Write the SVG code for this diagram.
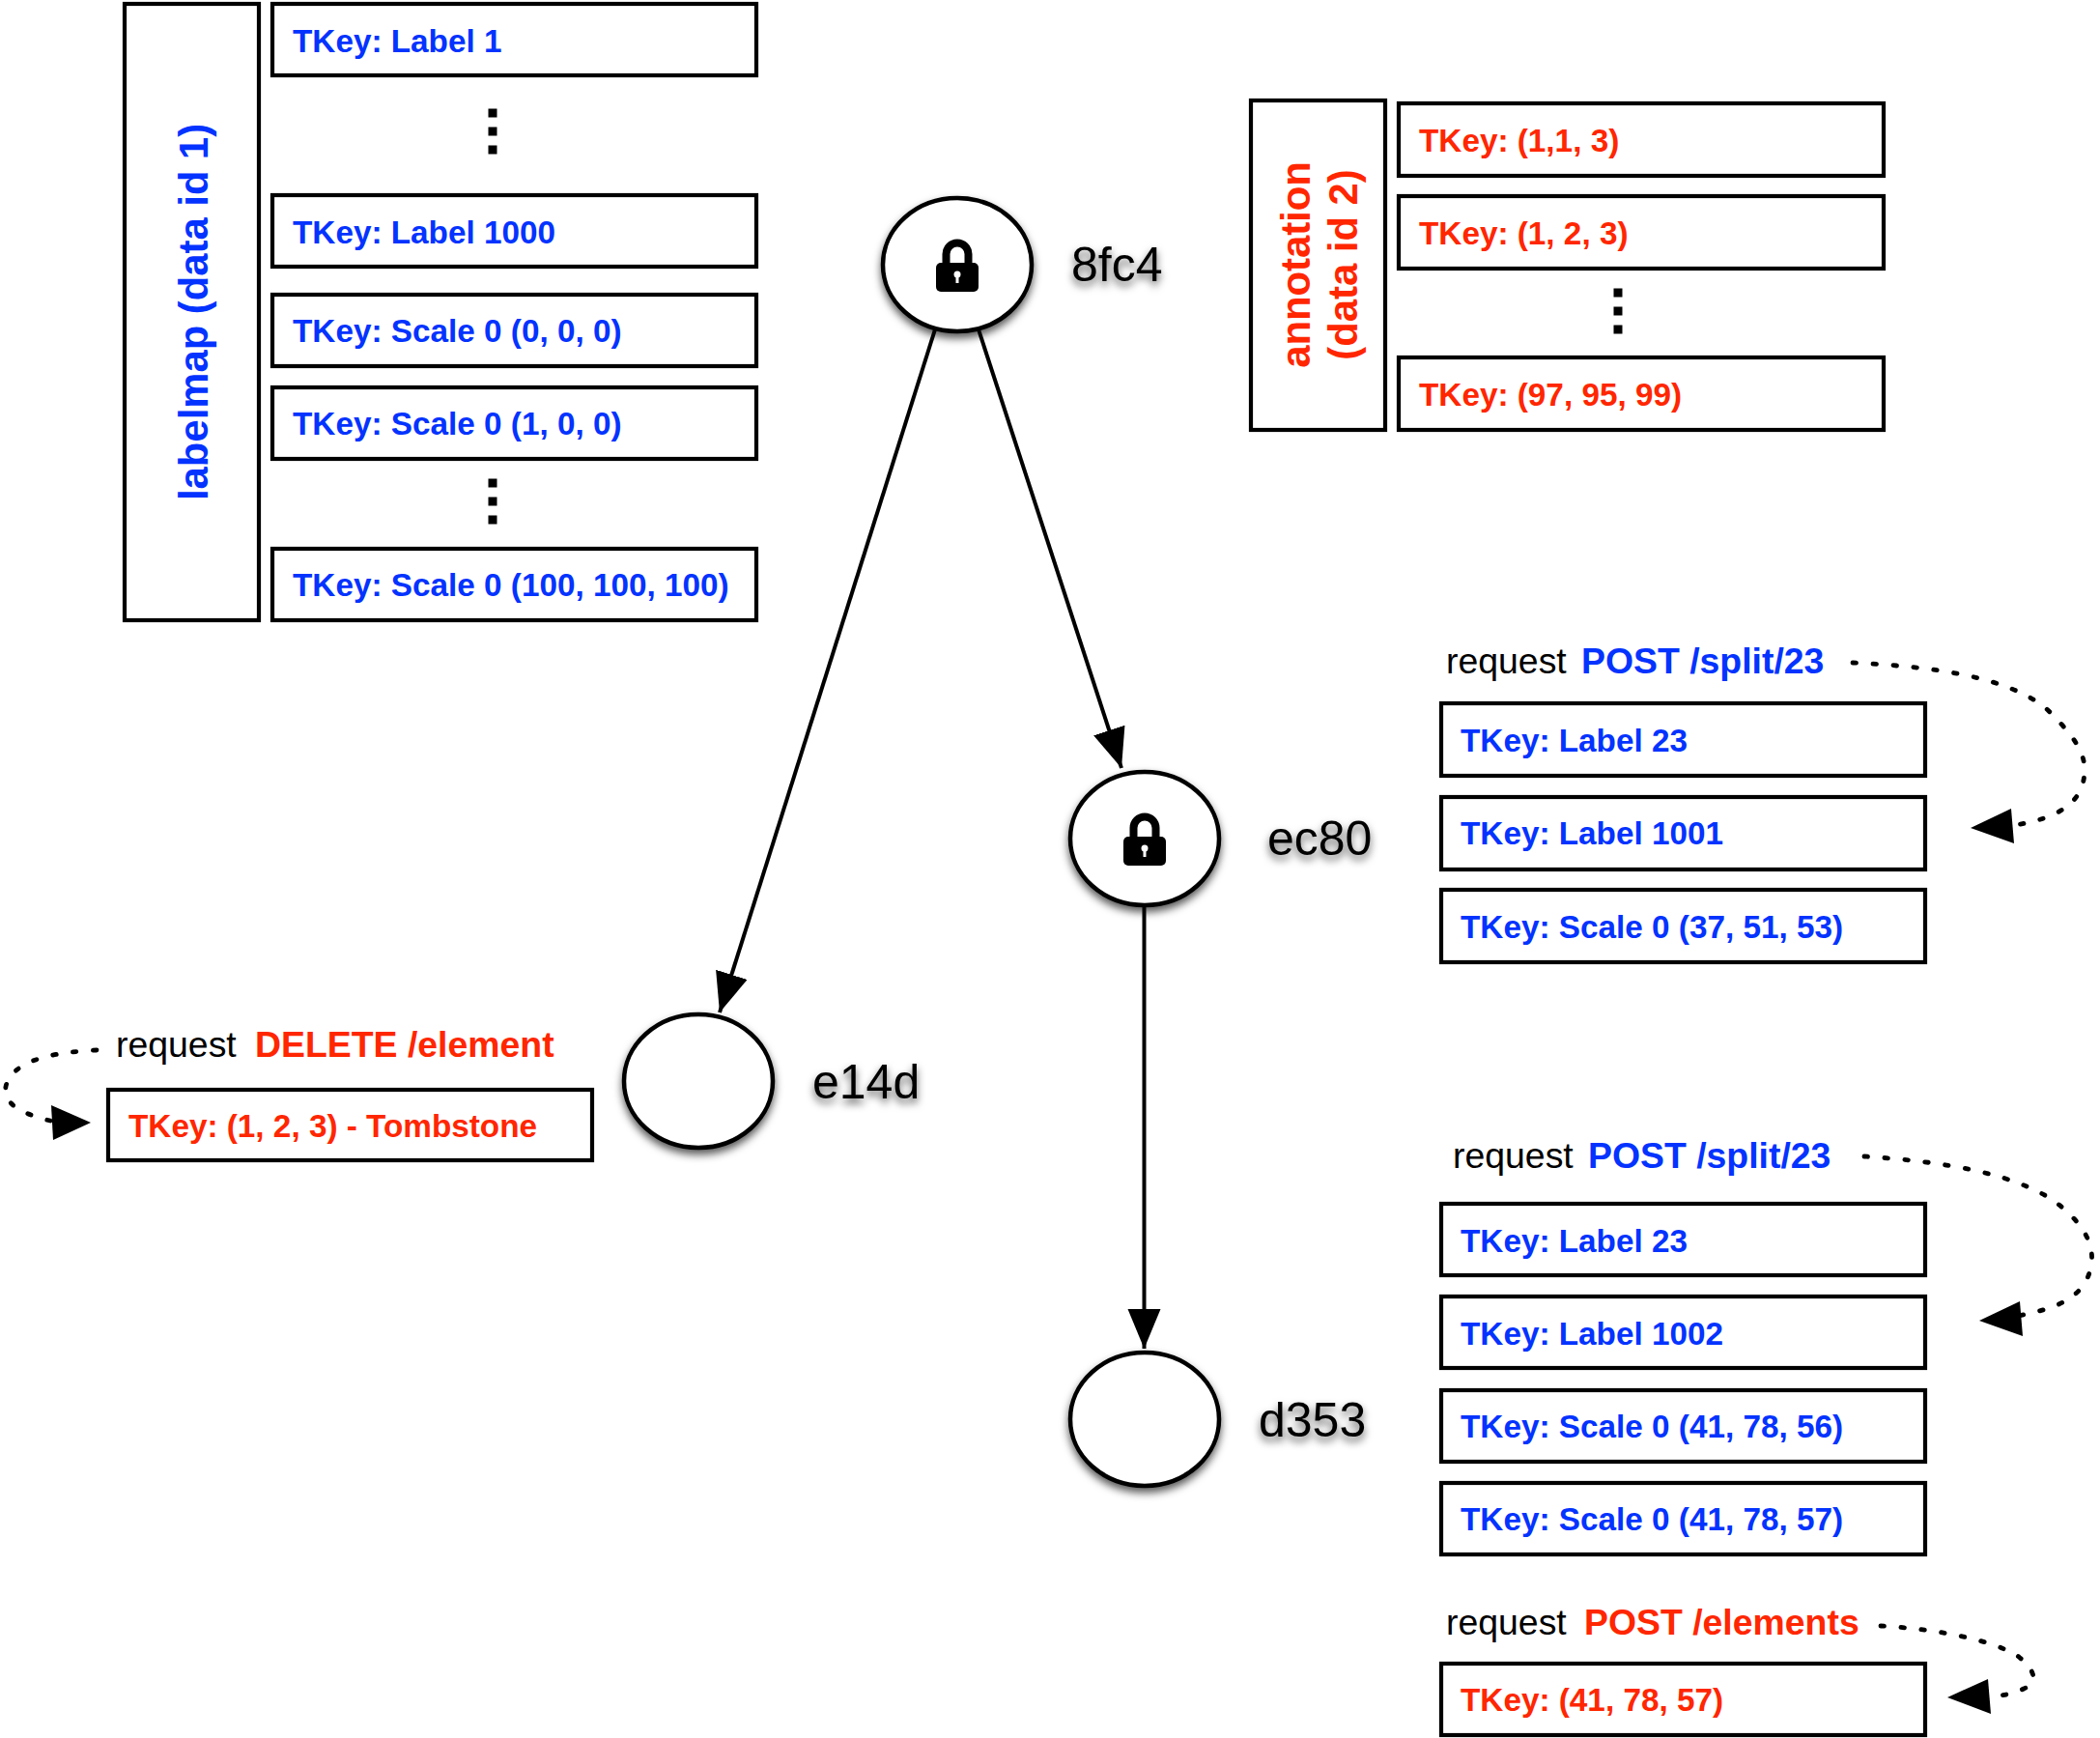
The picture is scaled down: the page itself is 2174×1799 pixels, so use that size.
<svg xmlns="http://www.w3.org/2000/svg" width="2174" height="1799" viewBox="0 0 2174 1799">
<style>
text{font-family:"Liberation Sans",Arial,sans-serif}
.box{fill:#fff;stroke:#000;stroke-width:4.2}
.k{font-size:33.3px;font-weight:700}
.b{fill:#0433ff}
.r{fill:#ff2600}
.q{font-size:37.4px;fill:#000}
.m{font-size:37.4px;font-weight:700}
.v{font-weight:700;font-size:41.8px}
.n{fill:#fff;stroke:#000;stroke-width:4.5;filter:url(#s)}
.l{font-size:50px;fill:#000;filter:url(#s)}
.c{fill:none;stroke:#000;stroke-width:4}
.d{fill:none;stroke:#000;stroke-width:4.800;stroke-linecap:round;stroke-dasharray:3.500 17.500}
</style>
<defs>
<filter id="s" x="-30%" y="-30%" width="160%" height="170%"><feDropShadow dx="0" dy="5" stdDeviation="4" flood-color="#000" flood-opacity=".65"/></filter>
<marker id="a" markerUnits="userSpaceOnUse" markerWidth="44" markerHeight="36" refX="41" refY="17" orient="auto"><path d="M0 0L41 17L0 34Z" fill="#000"/></marker>
<g id="lock"><path d="M-22 4a5 5 0 0 1 5-5h34a5 5 0 0 1 5 5v20a5 5 0 0 1-5 5h-34a5 5 0 0 1-5-5Z" fill="#000"/><path d="M-11.500 2v-12a11.500 11.500 0 0 1 23 0v12" fill="none" stroke="#000" stroke-width="8"/><circle cy="11" r="3.500" fill="#fff"/><rect x="-1.500" y="11" width="3" height="9" fill="#fff"/></g>
<g id="dots"><rect x="-4.500" y="-23.500" width="9" height="9"/><rect x="-4.500" y="-4.500" width="9" height="9"/><rect x="-4.500" y="14.500" width="9" height="9"/></g>
</defs>
<rect width="2174" height="1799" fill="#fff"/>
<g id="connectors">
<path class="c" d="M968 341L745 1048" marker-end="url(#a)"/>
<path class="c" d="M1013 341L1161 795" marker-end="url(#a)"/>
<path class="c" d="M1184.500 939V1396" marker-end="url(#a)"/>
<path class="d" d="M1918 686C2000 690 2080 700 2120 735C2150 765 2165 785 2155 815C2145 840 2115 850 2080 855"/>
<path d="M2040 857L2082 837L2085 873Z"/>
<path class="d" d="M1930 1197C2010 1202 2095 1215 2135 1250C2165 1275 2172 1300 2160 1325C2148 1348 2120 1356 2089 1362"/>
<path d="M2049 1367L2091 1347L2094 1383Z"/>
<path class="d" d="M1947 1683C2005 1686 2065 1698 2090 1715C2108 1730 2110 1742 2095 1748C2080 1755 2070 1755 2055 1757"/>
<path d="M2016 1757L2058 1738L2061 1774Z"/>
<path class="d" d="M100 1087C60 1089 25 1095 10 1115C-2 1135 10 1150 52 1160"/>
<path d="M94 1162L53 1144L55 1180Z"/>
</g>
<g id="labelmap">
<rect class="box" x="129" y="4" width="139" height="638"/>
<text class="v b" transform="translate(215 518) rotate(-90)">labelmap (data id 1)</text>
</g>
<g id="lm-keys">
<rect class="box" x="282" y="4" width="501" height="74"/><text class="k b" x="303" y="54">TKey: Label 1</text>
<use href="#dots" x="510" y="136"/>
<rect class="box" x="282" y="202" width="501" height="74"/><text class="k b" x="303" y="252">TKey: Label 1000</text>
<rect class="box" x="282" y="305" width="501" height="74"/><text class="k b" x="303" y="354">TKey: Scale 0 (0, 0, 0)</text>
<rect class="box" x="282" y="401" width="501" height="74"/><text class="k b" x="303" y="450">TKey: Scale 0 (1, 0, 0)</text>
<use href="#dots" x="510" y="519"/>
<rect class="box" x="282" y="568" width="501" height="74"/><text class="k b" x="303" y="617">TKey: Scale 0 (100, 100, 100)</text>
</g>
<g id="annotation">
<rect class="box" x="1295" y="104" width="139" height="341"/>
<text class="v r" text-anchor="middle" transform="translate(1356 274) rotate(-90)">annotation</text>
<text class="v r" text-anchor="middle" transform="translate(1405 274) rotate(-90)">(data id 2)</text>
</g>
<g id="an-keys">
<rect class="box" x="1448" y="107" width="502" height="75"/><text class="k r" x="1469" y="157">TKey: (1,1, 3)</text>
<rect class="box" x="1448" y="203" width="502" height="75"/><text class="k r" x="1469" y="253">TKey: (1, 2, 3)</text>
<use href="#dots" x="1675" y="322"/>
<rect class="box" x="1448" y="370" width="502" height="75"/><text class="k r" x="1469" y="420">TKey: (97, 95, 99)</text>
</g>
<g id="n8fc4"><ellipse class="n" cx="991" cy="274" rx="77" ry="69"/><use href="#lock" x="991" y="273"/><text class="l" x="1109" y="291">8fc4</text></g>
<g id="nec80"><ellipse class="n" cx="1185" cy="868" rx="77" ry="69"/><use href="#lock" x="1185" y="867"/><text class="l" x="1312" y="885">ec80</text></g>
<g id="ne14d"><ellipse class="n" cx="723" cy="1119" rx="77" ry="69"/><text class="l" x="841" y="1137">e14d</text></g>
<g id="nd353"><ellipse class="n" cx="1185" cy="1469" rx="77" ry="69"/><text class="l" x="1303" y="1487">d353</text></g>
<g id="req-delete">
<text class="q" x="120" y="1094">request</text><text class="m r" x="264" y="1094">DELETE /element</text>
<rect class="box" x="112" y="1128" width="501" height="73"/><text class="k r" x="133" y="1177">TKey: (1, 2, 3) - Tombstone</text>
</g>
<g id="req-split-1">
<text class="q" x="1497" y="697">request</text><text class="m b" x="1637" y="697">POST /split/23</text>
<rect class="box" x="1492" y="728" width="501" height="75"/><text class="k b" x="1512" y="778">TKey: Label 23</text>
<rect class="box" x="1492" y="825" width="501" height="75"/><text class="k b" x="1512" y="874">TKey: Label 1001</text>
<rect class="box" x="1492" y="921" width="501" height="75"/><text class="k b" x="1512" y="971">TKey: Scale 0 (37, 51, 53)</text>
</g>
<g id="req-split-2">
<text class="q" x="1504" y="1209">request</text><text class="m b" x="1644" y="1209">POST /split/23</text>
<rect class="box" x="1492" y="1246" width="501" height="74"/><text class="k b" x="1512" y="1296">TKey: Label 23</text>
<rect class="box" x="1492" y="1342" width="501" height="74"/><text class="k b" x="1512" y="1392">TKey: Label 1002</text>
<rect class="box" x="1492" y="1439" width="501" height="74"/><text class="k b" x="1512" y="1488">TKey: Scale 0 (41, 78, 56)</text>
<rect class="box" x="1492" y="1535" width="501" height="74"/><text class="k b" x="1512" y="1584">TKey: Scale 0 (41, 78, 57)</text>
</g>
<g id="req-elements">
<text class="q" x="1497" y="1692">request</text><text class="m r" x="1640" y="1692">POST /elements</text>
<rect class="box" x="1492" y="1722" width="501" height="74"/><text class="k r" x="1512" y="1771">TKey: (41, 78, 57)</text>
</g>
</svg>
